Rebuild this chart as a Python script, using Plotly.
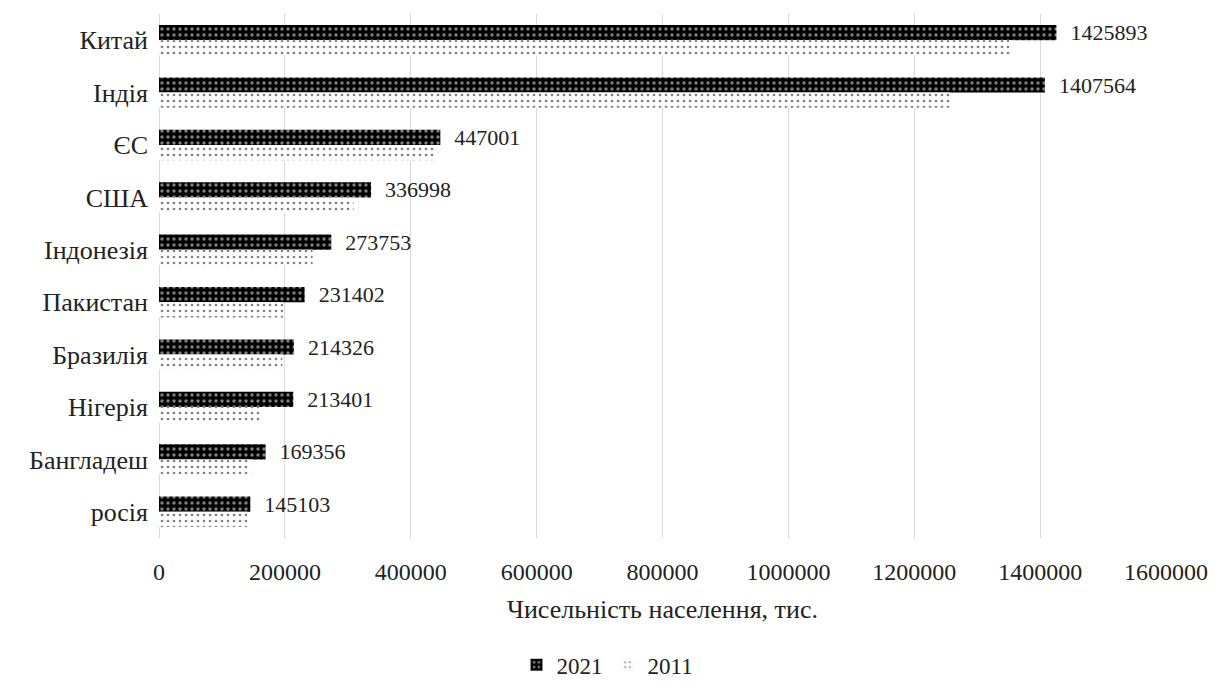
import plotly.graph_objects as go

# Population by country, thousands
countries = ["Китай", "Індія", "ЄС", "США", "Індонезія", "Пакистан",
             "Бразилія", "Нігерія", "Бангладеш", "росія"]
pop_2021 = [1425893, 1407564, 447001, 336998, 273753, 231402,
            214326, 213401, 169356, 145103]
pop_2011 = [1356000, 1257000, 439000, 309000, 244000, 197000,
            196000, 161000, 146000, 141000]
x_ticks = [0, 200000, 400000, 600000, 800000, 1000000, 1200000, 1400000, 1600000]

FONT = "'Liberation Serif', 'DejaVu Serif', serif"

fig = go.Figure()

fig.add_trace(go.Bar(
    name="2021",
    y=countries, x=pop_2021, orientation="h",
    marker=dict(color="black", line=dict(width=0),
                pattern=dict(shape=".", fillmode="overlay", fgcolor="white",
                             size=6, solidity=0.25)),
    text=["  " + str(v) for v in pop_2021],
    textposition="outside", cliponaxis=False, constraintext="none",
    textfont=dict(family=FONT, size=22, color="#222"),
))

fig.add_trace(go.Bar(
    name="2011",
    y=countries, x=pop_2011, orientation="h",
    marker=dict(color="white", line=dict(width=0),
                pattern=dict(shape=".", fillmode="overlay", fgcolor="black",
                             size=6, solidity=0.15)),
))

fig.update_layout(
    width=1215, height=691,
    margin=dict(l=159, r=49, t=14, b=153),
    paper_bgcolor="white", plot_bgcolor="white",
    barmode="group", bargap=0.42, bargroupgap=0,
    font=dict(family=FONT, size=22, color="#222"),
    showlegend=True,
    legend=dict(orientation="h", xref="container", yref="container",
                x=0.5, xanchor="center", y=0.038, yanchor="middle",
                font=dict(family=FONT, size=23, color="#222"),
                itemwidth=30, tracegroupgap=0),
)

fig.update_xaxes(
    range=[0, 1600000], tickvals=x_ticks, ticktext=[str(v) for v in x_ticks],
    automargin=False,
    showgrid=True, gridcolor="#d9d9d9", gridwidth=1,
    zeroline=True, zerolinecolor="#d9d9d9", zerolinewidth=1,
    showline=False, ticks="", ticklabelstandoff=17,
    tickfont=dict(family=FONT, size=24, color="#222"),
    title=dict(text="Чисельність населення, тис.", standoff=15,
               font=dict(family=FONT, size=26, color="#222")),
)

fig.update_yaxes(
    categoryorder="array", categoryarray=countries, autorange="reversed",
    automargin=False,
    showgrid=False, showline=False, ticks="", ticklabelstandoff=10,
    tickfont=dict(family=FONT, size=26, color="#222"),
)

fig.write_html("out.html")
